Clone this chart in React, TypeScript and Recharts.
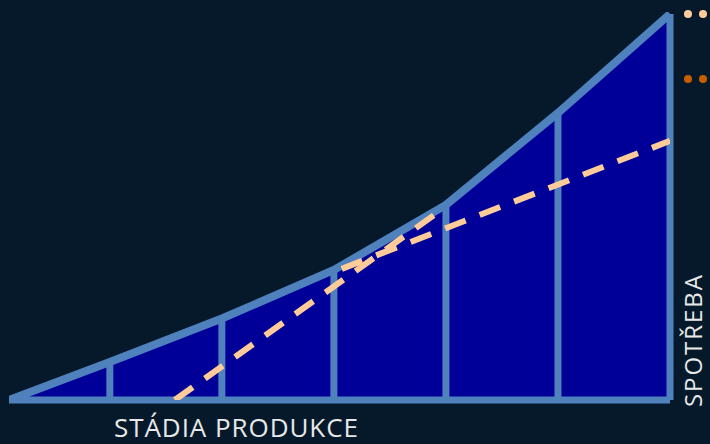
import { ComposedChart, Area, Line, XAxis, YAxis, ReferenceLine } from 'recharts';

// production stages (x) and consumption outline (y)
const stages = [0.1, 1, 2, 3, 4, 5, 6];
const consumption = [0, 9.8, 21, 33.5, 50.3, 74, 99.5];

// dashed trend lines
const steepX = [1.58, 3.92];
const steepY = [0, 48.2];
const flatX = [3.07, 6];
const flatY = [33.8, 66.8];

const xLabel = 'STÁDIA PRODUKCE';
const yLabel = 'SPOTŘEBA';

const outlineData = stages.map((x, i) => ({ x, top: consumption[i] }));
const steepData = steepX.map((x, i) => ({ x, v: steepY[i] }));
const flatData = flatX.map((x, i) => ({ x, v: flatY[i] }));

const BORDER = '#4f81bd';
const PEACH = '#ffcc99';

export default function App() {
  return (
    <div style={{ position: 'absolute', left: 0, top: 0, width: 710, height: 444, background: '#05192a', overflow: 'hidden' }}>
      <ComposedChart width={710} height={444} margin={{ top: 12, right: 40, bottom: 44, left: 9 }}>
        <XAxis dataKey="x" type="number" domain={[0.1, 6]} hide allowDataOverflow />
        <YAxis type="number" domain={[0, 100]} hide allowDataOverflow />
        <Area
          data={outlineData}
          dataKey="top"
          type="linear"
          fill="#000099"
          fillOpacity={1}
          stroke={BORDER}
          strokeWidth={8}
          isAnimationActive={false}
        />
        <ReferenceLine segment={[{ x: 0.1, y: 0 }, { x: 6, y: 0 }]} stroke={BORDER} strokeWidth={7} />
        {outlineData.slice(1).map((d) => (
          <ReferenceLine key={d.x} segment={[{ x: d.x, y: 0 }, { x: d.x, y: d.top }]} stroke={BORDER} strokeWidth={7} />
        ))}
        <Line
          data={steepData}
          dataKey="v"
          type="linear"
          stroke={PEACH}
          strokeWidth={6}
          strokeDasharray="22 15"
          dot={false}
          isAnimationActive={false}
        />
        <Line
          data={flatData}
          dataKey="v"
          type="linear"
          stroke={PEACH}
          strokeWidth={6}
          strokeDasharray="22 15"
          dot={false}
          isAnimationActive={false}
        />
      </ComposedChart>
      <svg width={710} height={444} style={{ position: 'absolute', left: 0, top: 0 }}>
        <circle cx={688} cy={14} r={4} fill={PEACH} />
        <circle cx={703} cy={14} r={4} fill={PEACH} />
        <circle cx={688} cy={79} r={4} fill="#c65f00" />
        <circle cx={703} cy={79} r={4} fill="#c65f00" />
        <text x={114} y={437} fill="#e8e8e8" fontFamily="'Open Sans', sans-serif" fontSize={26} textLength={244}>
          {xLabel}
        </text>
        <text
          transform="translate(702, 407) rotate(-90)"
          fill="#e8e8e8"
          fontFamily="'Open Sans', sans-serif"
          fontSize={24}
          textLength={132}
        >
          {yLabel}
        </text>
      </svg>
    </div>
  );
}
